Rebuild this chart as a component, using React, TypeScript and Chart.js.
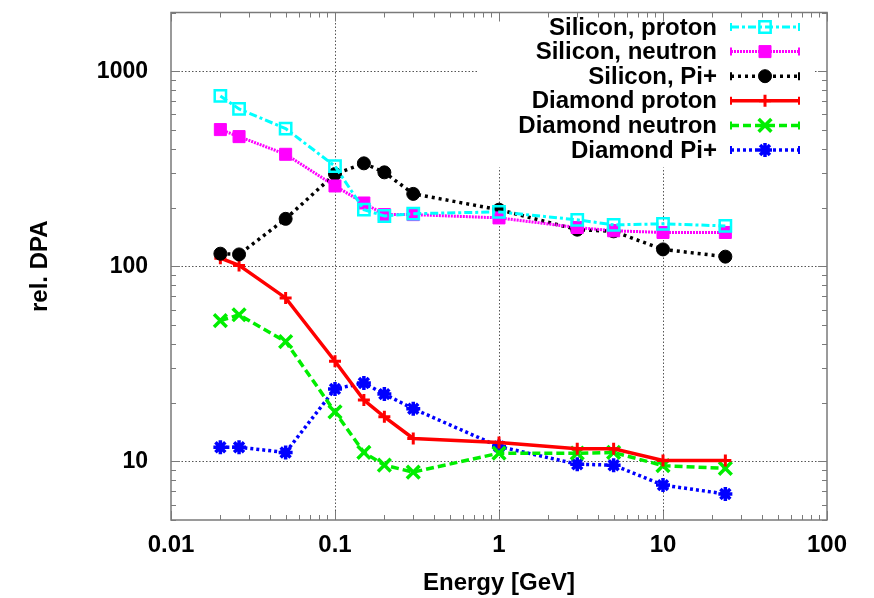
import React, { useEffect, useRef } from 'react';
import { Chart, registerables } from 'chart.js';
import { drawPoint } from 'chart.js/helpers';

Chart.register(...registerables);

const FONT = '"Liberation Sans", Arial, Helvetica, sans-serif';

// Energy values [GeV]
const energies = [0.02, 0.026, 0.05, 0.1, 0.15, 0.2, 0.3, 1, 3, 5, 10, 24];
const siliconProton = [747, 641, 508, 326, 195, 181, 186, 190, 173, 163, 165, 161];
const siliconNeutron = [502, 462, 375, 258, 211, 184, 184, 177, 158, 152, 149, 149];
const siliconPi = [116, 115, 175, 297, 337, 303, 235, 195, 154, 151, 122, 112];
const diamondProton = [110, 101, 68.8, 32.6, 20.6, 16.9, 13.1, 12.5, 11.6, 11.6, 10.1, 10.1];
const diamondNeutron = [52.6, 56.4, 41.1, 17.9, 11.1, 9.55, 8.8, 11.0, 11.0, 11.1, 9.5, 9.2];
const diamondPi = [11.8, 11.8, 11.1, 23.5, 25.2, 22.1, 18.6, 11.9, 9.66, 9.55, 7.55, 6.8];

const seriesNames = [
  'Silicon, proton',
  'Silicon, neutron',
  'Silicon, Pi+',
  'Diamond proton',
  'Diamond neutron',
  'Diamond Pi+',
];
const seriesValues = [siliconProton, siliconNeutron, siliconPi, diamondProton, diamondNeutron, diamondPi];

const xTicks = [0.01, 0.1, 1, 10, 100];
const yTicks = [10, 100, 1000];
const xMin = 0.01, xMax = 100, yMin = 5, yMax = 2000;

const styles = [
  { color: '#00ffff', dash: [8, 3, 3, 3], width: 3, point: 'rect', radius: 8, pw: 2.5, fill: 'rgba(0,0,0,0)' },
  { color: '#ff00ff', dash: [2, 1], width: 3, point: 'rect', radius: 8.5, pw: 1, fill: '#ff00ff' },
  { color: '#000000', dash: [3, 4], width: 3.5, point: 'circle', radius: 6.5, pw: 1, fill: '#000000' },
  { color: '#ff0000', dash: [], width: 3.5, point: 'cross', radius: 6, pw: 3, fill: '#ff0000' },
  { color: '#00ee00', dash: [8, 4], width: 3.5, point: 'crossRot', radius: 9, pw: 3.5, fill: '#00ee00' },
  { color: '#0000ff', dash: [3, 3], width: 3.5, point: 'star', radius: 7, pw: 3.5, fill: '#0000ff' },
];

function decadeMinors(min: number, max: number): number[] {
  const out: number[] = [];
  for (let d = Math.floor(Math.log10(min)); d <= Math.ceil(Math.log10(max)); d++) {
    for (let m = 1; m <= 9; m++) {
      const v = m * Math.pow(10, d);
      if (v >= min * 0.999 && v <= max * 1.001) out.push(v);
    }
  }
  return out;
}

const decorPlugin = {
  id: 'decor',
  afterDatasetsDraw(chart: any) {
    const ctx = chart.ctx as CanvasRenderingContext2D;
    const area = chart.chartArea;
    ctx.save();
    ctx.fillStyle = '#ffffff';
    ctx.fillRect(478, area.top + 6, area.right - 14 - 478, 149);
    ctx.font = `bold 24px ${FONT}`;
    ctx.textAlign = 'right';
    ctx.textBaseline = 'middle';
    chart.data.datasets.forEach((ds: any, i: number) => {
      const y = 27 + i * 24.6;
      ctx.fillStyle = '#000';
      ctx.fillText(ds.label, 717, y + 1);
      ctx.strokeStyle = ds.borderColor;
      ctx.lineWidth = ds.borderWidth;
      ctx.setLineDash(ds.borderDash || []);
      ctx.beginPath();
      ctx.moveTo(731, y);
      ctx.lineTo(799, y);
      ctx.stroke();
      ctx.setLineDash([]);
      ctx.lineWidth = 2;
      ctx.beginPath();
      ctx.moveTo(731, y - 4); ctx.lineTo(731, y + 4);
      ctx.moveTo(799, y - 4); ctx.lineTo(799, y + 4);
      ctx.stroke();
      ctx.fillStyle = ds.pointBackgroundColor;
      ctx.strokeStyle = ds.borderColor;
      ctx.lineWidth = ds.pointBorderWidth;
      drawPoint(ctx, { pointStyle: ds.pointStyle, radius: ds.pointRadius, borderWidth: ds.pointBorderWidth, rotation: 0 } as any, 765, y);
    });
    ctx.restore();
  },
  afterDraw(chart: any) {
    const ctx = chart.ctx as CanvasRenderingContext2D;
    const { left, right, top, bottom } = chart.chartArea;
    const xs = chart.scales.x;
    const ys = chart.scales.y;
    ctx.save();
    ctx.strokeStyle = '#7a7a7a';
    ctx.lineWidth = 1.5;
    ctx.setLineDash([]);
    ctx.strokeRect(left, top, right - left, bottom - top);
    ctx.lineWidth = 1;
    ctx.beginPath();
    decadeMinors(xMin, xMax).forEach((v) => {
      const px = Math.round(xs.getPixelForValue(v)) + 0.5;
      const major = xTicks.includes(v);
      const len = major ? 9 : 5;
      ctx.moveTo(px, bottom); ctx.lineTo(px, bottom - len);
      ctx.moveTo(px, top); ctx.lineTo(px, top + len);
    });
    decadeMinors(yMin, yMax).forEach((v) => {
      const py = Math.round(ys.getPixelForValue(v)) + 0.5;
      const major = yTicks.includes(v);
      const len = major ? 9 : 5;
      ctx.moveTo(left, py); ctx.lineTo(left + len, py);
      ctx.moveTo(right, py); ctx.lineTo(right - len, py);
    });
    ctx.stroke();
    ctx.restore();
  },
};

export default function App() {
  const ref = useRef<HTMLCanvasElement | null>(null);
  useEffect(() => {
    if (!ref.current) return;
    const datasets = seriesNames.map((name, i) => {
      const s = styles[i];
      return {
        label: name,
        data: energies.map((e, j) => ({ x: e, y: seriesValues[i][j] })),
        borderColor: s.color,
        borderDash: s.dash,
        borderWidth: s.width,
        pointStyle: s.point,
        pointRadius: s.radius,
        pointBorderWidth: s.pw,
        pointBackgroundColor: s.fill,
        pointBorderColor: s.color,
        backgroundColor: s.fill,
        tension: 0,
        fill: false,
      };
    });
    const chart = new Chart(ref.current, {
      type: 'line',
      data: { datasets: datasets as any },
      plugins: [decorPlugin as any],
      options: {
        animation: false,
        responsive: false,
        maintainAspectRatio: false,
        layout: { padding: { top: 7, right: 47, left: 0, bottom: 0 } },
        plugins: { legend: { display: false }, tooltip: { enabled: false } },
        scales: {
          x: {
            type: 'logarithmic',
            min: xMin,
            max: xMax,
            afterBuildTicks: (scale: any) => { scale.ticks = xTicks.map((v) => ({ value: v })); },
            afterFit: (scale: any) => {
              scale.height = 78;
              scale.paddingLeft = 0;
              scale.paddingRight = 0;
            },
            ticks: {
              autoSkip: false,
              maxRotation: 0,
              padding: 11,
              color: '#000',
              font: { family: FONT, size: 24, weight: 'bold' },
              callback: (v: any) => String(v),
            },
            grid: {
              drawTicks: false,
              lineWidth: 1,
              color: (c: any) => (c.tick && (c.tick.value === xMin || c.tick.value === xMax) ? 'rgba(0,0,0,0)' : '#555'),
            },
            border: { display: false, dash: [1.5, 2] },
            title: {
              display: true,
              text: 'Energy [GeV]',
              color: '#000',
              font: { family: FONT, size: 24, weight: 'bold' },
              padding: { top: 0, bottom: 0 },
            },
          },
          y: {
            type: 'logarithmic',
            min: yMin,
            max: yMax,
            afterBuildTicks: (scale: any) => { scale.ticks = yTicks.map((v) => ({ value: v })); },
            afterFit: (scale: any) => {
              scale.width = 171;
              scale.paddingTop = 0;
              scale.paddingBottom = 0;
            },
            ticks: {
              autoSkip: false,
              padding: 23,
              color: '#000',
              font: { family: FONT, size: 23, weight: 'bold' },
              callback: (v: any) => String(v),
            },
            grid: {
              drawTicks: false,
              lineWidth: 1,
              color: '#555',
            },
            border: { display: false, dash: [1.5, 2] },
            title: {
              display: true,
              text: 'rel. DPA',
              color: '#000',
              font: { family: FONT, size: 24, weight: 'bold' },
              padding: { top: 26, bottom: 0 },
            },
          },
        },
      } as any,
    });
    return () => chart.destroy();
  }, []);
  return (
    <div style={{ position: 'fixed', left: 0, top: 0, width: 874, height: 598, background: '#fff' }}>
      <canvas ref={ref} width={874} height={598} style={{ width: 874, height: 598, display: 'block' }} />
    </div>
  );
}
